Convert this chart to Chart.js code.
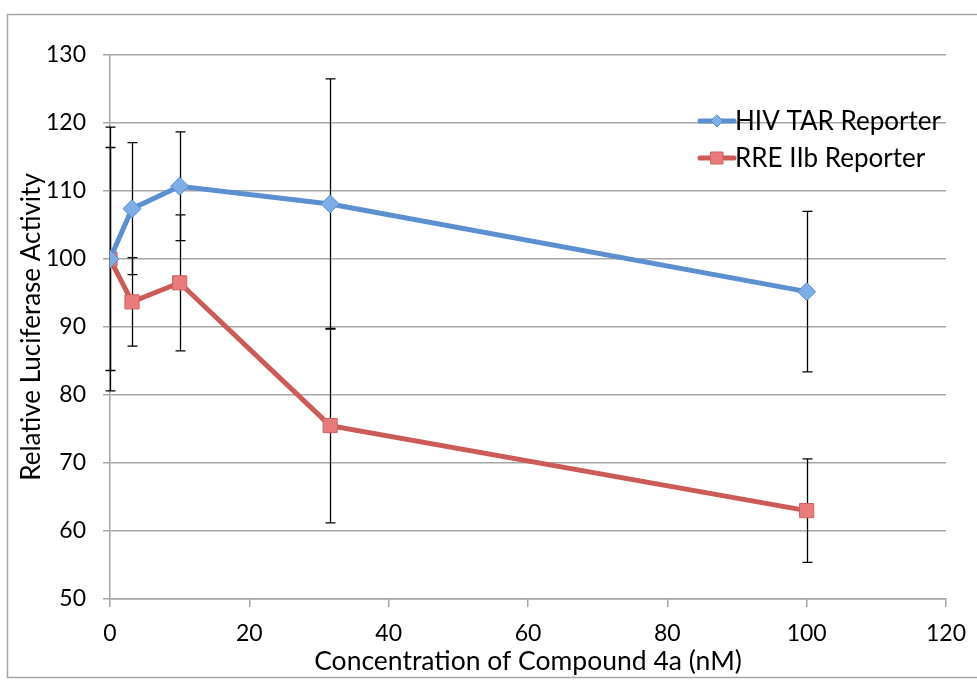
<!DOCTYPE html>
<html>
<head>
<meta charset="utf-8">
<script src="https://cdn.jsdelivr.net/npm/chart.js@4.4.1/dist/chart.umd.min.js"></script>
<style>
html,body{margin:0;padding:0;background:#fff;}
#wrap{width:977px;height:680px;position:relative;}
</style>
</head>
<body>
<div id="wrap"><canvas id="c" width="977" height="680"></canvas></div>
<script>
const concentrations = [0, 3.16, 10, 31.6, 100];
const hivTar = [100, 107.4, 110.7, 108.1, 95.2];
const hivTarErr = [16.4, 9.7, 8.0, 18.4, 11.8];
const rreIIb = [100, 93.7, 96.5, 75.5, 63.0];
const rreIIbErr = [19.4, 6.5, 10.0, 14.3, 7.6];
const seriesNames = ['HIV TAR Reporter', 'RRE IIb Reporter'];
const xTitle = 'Concentration of Compound 4a (nM)';
const yTitle = 'Relative Luciferase Activity';

const FONT = 'Lato, "Open Sans", sans-serif';
const toPts = (xs, ys) => xs.map((x, i) => ({x: x, y: ys[i]}));

const errorBars = {
  id: 'errorBars',
  beforeDatasetsDraw(chart) {
    const {ctx, scales: {x, y}} = chart;
    ctx.save();
    ctx.strokeStyle = '#000';
    ctx.lineWidth = 1.3;
    chart.data.datasets.forEach(ds => {
      ds.data.forEach((p, i) => {
        const e = ds.errors[i];
        const px = Math.round(x.getPixelForValue(p.x)) + 0.5;
        const top = y.getPixelForValue(p.y + e);
        const bot = y.getPixelForValue(p.y - e);
        ctx.beginPath();
        ctx.moveTo(px, top); ctx.lineTo(px, bot);
        ctx.moveTo(px - 5, top); ctx.lineTo(px + 5, top);
        ctx.moveTo(px - 5, bot); ctx.lineTo(px + 5, bot);
        ctx.stroke();
      });
    });
    ctx.restore();
  }
};

const frame = {
  id: 'frame',
  beforeDraw(chart) {
    const ctx = chart.ctx;
    ctx.save();
    ctx.strokeStyle = '#a6a6a6';
    ctx.lineWidth = 1.5;
    ctx.strokeRect(7.5, 14.5, 990, 663);
    ctx.restore();
  }
};

const customLegend = {
  id: 'customLegend',
  afterDraw(chart) {
    const ctx = chart.ctx;
    const x0 = 700, x1 = 734;
    const ys = [121, 158];
    ctx.save();
    chart.data.datasets.forEach((ds, i) => {
      const yy = ys[i];
      ctx.strokeStyle = ds.borderColor;
      ctx.lineWidth = 5;
      ctx.lineCap = 'round';
      ctx.beginPath(); ctx.moveTo(x0, yy); ctx.lineTo(x1, yy); ctx.stroke();
      const mx = (x0 + x1) / 2;
      ctx.fillStyle = ds.pointBackgroundColor;
      ctx.strokeStyle = ds.pointBorderColor;
      ctx.lineWidth = 1;
      ctx.beginPath();
      if (ds.pointStyle === 'rectRot') {
        const r = 6;
        ctx.moveTo(mx, yy - r); ctx.lineTo(mx + r, yy); ctx.lineTo(mx, yy + r); ctx.lineTo(mx - r, yy); ctx.closePath();
      } else {
        ctx.rect(mx - 6, yy - 6, 12, 12);
      }
      ctx.fill(); ctx.stroke();
      ctx.fillStyle = '#000';
      ctx.font = '26px ' + FONT;
      ctx.textBaseline = 'middle';
      ctx.textAlign = 'left';
      ctx.fillText(ds.label, x1 + 1, yy + 1);
    });
    ctx.restore();
  }
};

new Chart(document.getElementById('c'), {
  type: 'line',
  data: {
    datasets: [
      {
        label: seriesNames[0],
        data: toPts(concentrations, hivTar),
        errors: hivTarErr,
        borderColor: '#5b8fd0',
        borderWidth: 5,
        pointStyle: 'rectRot',
        pointRadius: 9,
        pointBackgroundColor: '#7eaee8',
        pointBorderColor: '#5a8bc8',
        pointBorderWidth: 1,
        tension: 0,
        fill: false
      },
      {
        label: seriesNames[1],
        data: toPts(concentrations, rreIIb),
        errors: rreIIbErr,
        borderColor: '#cc5a57',
        borderWidth: 5,
        pointStyle: 'rect',
        pointRadius: 10,
        pointBackgroundColor: '#ea7b7c',
        pointBorderColor: '#cf6260',
        pointBorderWidth: 1,
        tension: 0,
        fill: false
      }
    ]
  },
  options: {
    responsive: false,
    animation: false,
    events: [],
    layout: {padding: {left: 8, top: 55, right: 31, bottom: 0}},
    plugins: {legend: {display: false}, tooltip: {enabled: false}},
    scales: {
      x: {
        type: 'linear',
        min: 0, max: 120,
        ticks: {stepSize: 20, color: '#000', font: {family: FONT, size: 23}, padding: 13, maxRotation: 0},
        grid: {display: true, drawOnChartArea: false, drawTicks: true, tickLength: 8, color: '#a6a6a6', lineWidth: 1.5},
        border: {display: true, color: '#a6a6a6', width: 1.5},
        title: {display: true, text: xTitle, color: '#000', font: {family: FONT, size: 26.5}, padding: {top: 0, bottom: 3}},
        afterFit(s) { s.height = 680 - 599; s.paddingRight = 0; }
      },
      y: {
        type: 'linear',
        min: 50, max: 130,
        ticks: {stepSize: 10, color: '#000', font: {family: FONT, size: 23}, padding: 17},
        grid: {color: '#a6a6a6', lineWidth: 1.5, tickLength: 7},
        border: {display: true, color: '#a6a6a6', width: 1.5},
        title: {display: true, text: yTitle, color: '#000', font: {family: FONT, size: 26}, padding: {top: 8, bottom: 0}},
        afterFit(s) { s.width = 110 - 8; }
      }
    }
  },
  plugins: [frame, errorBars, customLegend]
});
</script>
</body>
</html>
